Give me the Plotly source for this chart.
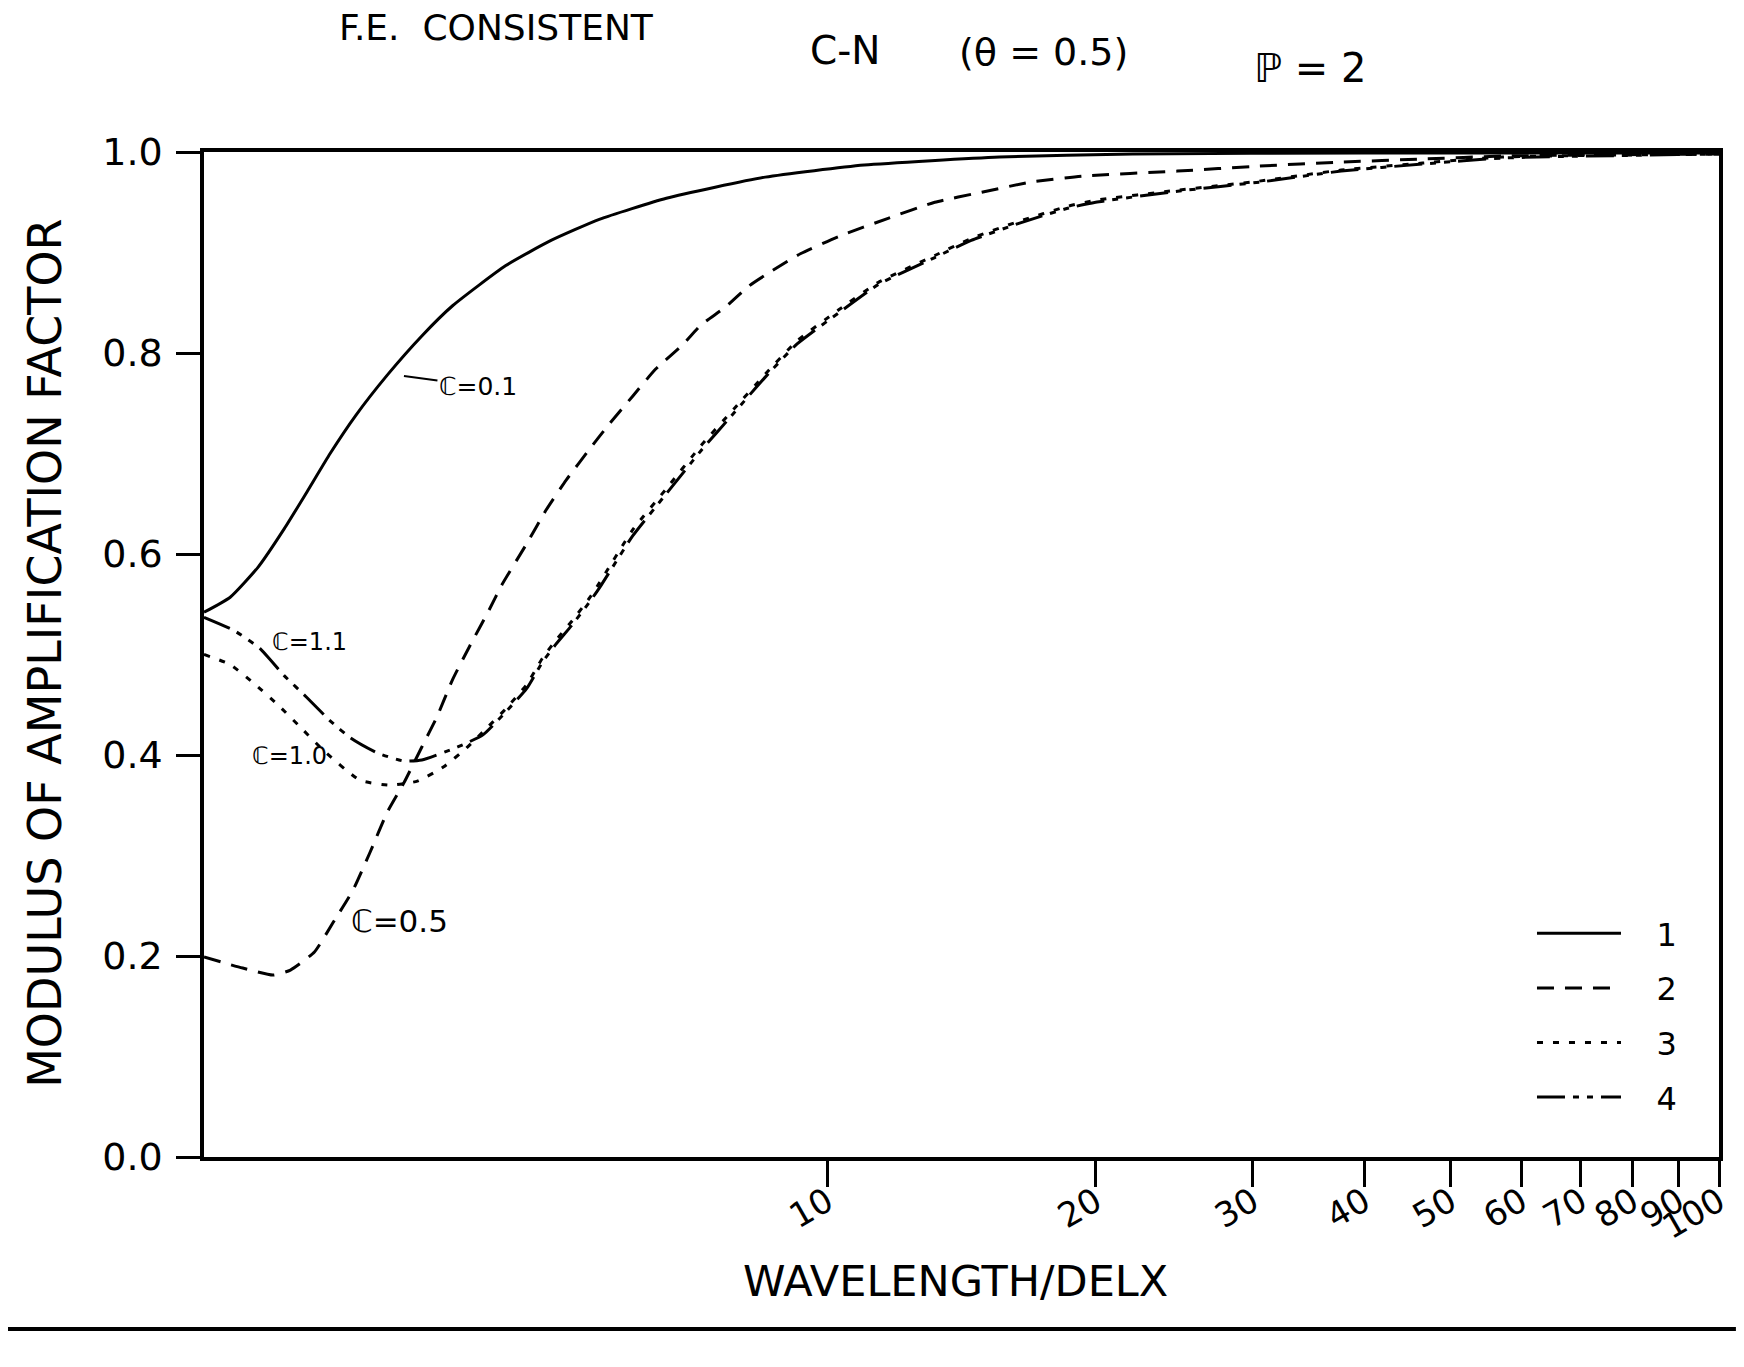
import plotly.graph_objects as go

# ---------------- data ----------------
x1 = [2.0, 2.14, 2.30, 2.46, 2.61, 2.77, 2.96, 3.21, 3.51, 3.80, 4.36, 4.90, 5.55,
      6.60, 8.52, 11.0, 15.6, 22.0, 40.0, 100.0]
y1 = [0.542, 0.557, 0.587, 0.625, 0.662, 0.700, 0.738, 0.778, 0.817, 0.847, 0.887,
      0.912, 0.933, 0.954, 0.975, 0.987, 0.995, 0.998, 0.999, 0.999]

x2 = [2.0, 2.21, 2.39, 2.50, 2.66, 2.79, 2.94, 3.07, 3.21, 3.35, 3.51, 3.65, 3.80,
      3.97, 4.18, 4.32, 4.60, 4.84, 5.10, 5.42, 5.69, 6.05, 6.42, 6.88, 7.22, 7.67,
      8.18, 8.68, 9.34, 10.3, 11.7, 13.2, 14.9, 16.9, 19.3, 24.7, 30.5, 37.7, 46.5,
      57.2, 100.0]
y2 = [0.199, 0.188, 0.181, 0.186, 0.204, 0.233, 0.266, 0.303, 0.343, 0.372, 0.408,
      0.438, 0.475, 0.508, 0.545, 0.570, 0.610, 0.644, 0.674, 0.705, 0.729, 0.757,
      0.784, 0.808, 0.828, 0.845, 0.867, 0.882, 0.899, 0.916, 0.934, 0.950, 0.960,
      0.970, 0.976, 0.981, 0.986, 0.990, 0.993, 0.996, 0.998]

x3 = [2.0, 2.14, 2.27, 2.42, 2.55, 2.72, 2.99, 3.23, 3.47, 3.71, 3.94, 4.11, 4.36,
      4.60, 4.79, 4.96, 5.18, 5.42, 5.55, 6.05, 6.60, 7.22, 7.87, 8.52, 9.25, 10.3,
      11.4, 13.2, 14.5, 16.4, 18.6, 20.0, 24.7, 30.5, 37.7, 46.5, 57.2, 100.0]
y3 = [0.500, 0.490, 0.472, 0.450, 0.430, 0.405, 0.375, 0.370, 0.374, 0.388, 0.407,
      0.423, 0.446, 0.470, 0.496, 0.514, 0.534, 0.557, 0.571, 0.624, 0.665, 0.708,
      0.745, 0.779, 0.812, 0.843, 0.870, 0.897, 0.914, 0.931, 0.946, 0.952, 0.962,
      0.971, 0.982, 0.989, 0.995, 0.998]

x4 = [2.0, 2.16, 2.31, 2.46, 2.61, 2.77, 2.92, 3.13, 3.35, 3.51, 3.85, 4.11, 4.36,
      4.60, 4.79, 4.96, 5.18, 5.42, 5.55, 6.05, 6.60, 7.22, 7.87, 8.52, 9.25, 10.3,
      11.4, 13.2, 14.5, 16.4, 18.6, 20.0, 24.7, 30.5, 37.7, 46.5, 57.2, 100.0]
y4 = [0.537, 0.524, 0.506, 0.479, 0.457, 0.434, 0.417, 0.402, 0.394, 0.395, 0.408,
      0.420, 0.443, 0.466, 0.492, 0.510, 0.530, 0.553, 0.566, 0.618, 0.660, 0.703,
      0.741, 0.776, 0.809, 0.840, 0.868, 0.895, 0.912, 0.929, 0.944, 0.950, 0.961,
      0.970, 0.981, 0.988, 0.994, 0.998]

series_names = ["1", "2", "3", "4"]
x_tick_vals = [10, 20, 30, 40, 50, 60, 70, 80, 90, 100]
x_tick_text = ["10", "20", "30", "40", "50", "60", "70", "80", "90", "100"]
y_tick_vals = [0.0, 0.2, 0.4, 0.6, 0.8, 1.0]

curve_labels = ["\u2102=0.1", "\u2102=1.1", "\u2102=1.0", "\u2102=0.5"]

# ---------------- figure ----------------
OFFX, OFFY = 8, 8            # page body margin of the html page
W, H = 1744 - OFFX, 1367 - OFFY
L, R, T, B = 196, 17, 152 - OFFY, 210
PW, PH = W - L - R, H - T - B


def px(xp):                  # page x (pixels) -> paper x
    return (xp - OFFX - L) / PW


def py(yp):                  # page y (pixels) -> paper y
    return (H - B - (yp - OFFY)) / PH


dashes = ["solid", "17px,11px", "6px,10px", "28px,8px,6px,8px,6px,8px"]
xs = [x1, x2, x3, x4]
ys = [y1, y2, y3, y4]

fig = go.Figure()
for i in range(4):
    fig.add_trace(go.Scatter(
        x=xs[i], y=ys[i], mode="lines",
        name="\u00a0\u00a0\u00a0" + series_names[i],
        legendgroup=series_names[i],
        line=dict(color="black", width=3, dash=dashes[i], shape="spline", smoothing=0.5),
    ))

font_main = "DejaVu Sans"

fig.update_layout(
    width=W, height=H,
    margin=dict(l=L, r=R, t=T, b=B),
    paper_bgcolor="white", plot_bgcolor="white",
    font=dict(family=font_main, color="black"),
    showlegend=True,
    legend=dict(x=px(1539), y=py(906), xanchor="left", yanchor="top",
                font=dict(size=32, family=font_main, color="black"),
                itemwidth=84, tracegroupgap=10, bgcolor="rgba(0,0,0,0)",
                borderwidth=0),
    xaxis=dict(type="log", range=[0.30103, 2.0],
               tickmode="array", tickvals=x_tick_vals, ticktext=x_tick_text,
               ticks="outside", ticklen=26, tickwidth=2.5, tickcolor="black",
               tickangle=-30, tickfont=dict(size=34, family=font_main),
               ticklabelstandoff=-18,
               showline=True, linecolor="black", linewidth=3.5, mirror=True,
               showgrid=False, zeroline=False),
    yaxis=dict(range=[0, 1.0],
               tickmode="array", tickvals=y_tick_vals, tickformat=".1f",
               ticks="outside", ticklen=24, tickwidth=2.5, tickcolor="black",
               tickfont=dict(size=38, family=font_main), ticklabelstandoff=6,
               showline=True, linecolor="black", linewidth=3.5, mirror=True,
               showgrid=False, zeroline=False),
)

annotations = [
    dict(text="F.E.  CONSISTENT", x=px(498), y=py(28), font=dict(size=36)),
    dict(text="C-N", x=px(848), y=py(50), font=dict(size=39)),
    dict(text="(\u03b8 = 0.5)", x=px(1048), y=py(52), font=dict(size=38)),
    dict(text="\u2119 = 2", x=px(1316), y=py(68), font=dict(size=40)),
    dict(text="MODULUS OF AMPLIFICATION FACTOR", x=px(44), y=py(653), textangle=-90,
         font=dict(size=46)),
    dict(text="WAVELENGTH/DELX", x=px(959), y=py(1281), font=dict(size=43)),
    dict(text=curve_labels[1], x=px(310), y=py(642), font=dict(size=24)),
    dict(text=curve_labels[2], x=px(290), y=py(756), font=dict(size=24)),
    dict(text=curve_labels[3], x=px(401), y=py(921), font=dict(size=31)),
]
for a in annotations:
    a.update(xref="paper", yref="paper", showarrow=False, xanchor="center",
             yanchor="middle")
    a["font"].update(family=font_main, color="black")
    fig.add_annotation(**a)

# label with leader hook for the C=0.1 curve
fig.add_annotation(text=curve_labels[0], xref="paper", yref="paper",
                   x=px(405), y=py(376), ax=74, ay=10, axref="pixel", ayref="pixel",
                   showarrow=True, arrowhead=0, arrowwidth=2, arrowcolor="black",
                   font=dict(size=25, family=font_main, color="black"))

# horizontal rule below the chart
fig.add_shape(type="line", xref="paper", yref="paper",
              x0=px(0), x1=px(1744), y0=py(1329), y1=py(1329),
              line=dict(color="black", width=4))

fig.write_html("out.html")
